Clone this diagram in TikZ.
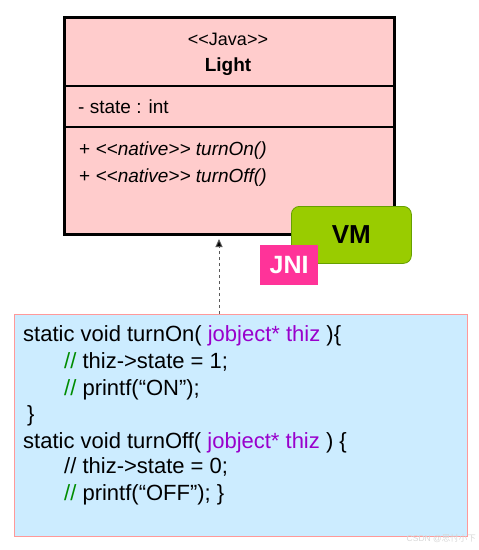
\documentclass[tikz,border=0pt]{standalone}
\usepackage{fontspec}
\setmainfont{Liberation Sans}
\newfontfamily\cjk{Noto Sans CJK SC}
\usetikzlibrary{arrows.meta}
\definecolor{umlpink}{RGB}{255,204,204}
\definecolor{codeblue}{RGB}{204,236,255}
\definecolor{codeborder}{RGB}{255,153,153}
\definecolor{vmgreen}{RGB}{153,204,0}
\definecolor{vmborder}{RGB}{102,160,0}
\definecolor{jnipink}{RGB}{255,51,153}
\definecolor{kwpurple}{RGB}{153,0,204}
\definecolor{cmgreen}{RGB}{0,140,0}
\definecolor{wmgray}{RGB}{215,215,215}
\tikzset{
  umltext/.style={inner sep=0pt, font=\fontsize{19}{21}\selectfont},
  codeline/.style={anchor=base west, inner sep=0pt, font=\fontsize{22}{24}\selectfont},
}
\newcommand{\kwc}[1]{\textcolor{kwpurple}{#1}}
\newcommand{\cmc}[1]{\textcolor{cmgreen}{#1}}
\begin{document}
\begin{tikzpicture}[x=1pt,y=-1pt]
\useasboundingbox (0,0) rectangle (479,550);
% UML class box
\node[draw=black, line width=3pt, fill=umlpink, minimum width=330pt, minimum height=217pt, inner sep=0pt, anchor=north west] (light) at (63,16) {};
\draw[line width=1.2pt] (light.west |- 0,86) coordinate (d1a) -- (light.east |- 0,86) coordinate (d1b);
\draw[line width=1.2pt] (light.west |- 0,127) coordinate (d2a) -- (light.east |- 0,127) coordinate (d2b);
\node[umltext, font=\fontsize{18}{20}\selectfont] (stereo) at (228,39) {<{}<Java>{}>};
\node[umltext, font=\fontsize{19}{21}\selectfont\bfseries] (lname) at (228,67) {Light};
\node[umltext, anchor=west] (attr) at (78,107) {- state : int};
\node[umltext, anchor=west] (m1) at (79,151) {+ \textit{<{}<native>{}> turnOn()}};
\node[umltext, anchor=west] (m2) at (79,178) {+ \textit{<{}<native>{}> turnOff()}};
% VM and JNI
\node[draw=vmborder, line width=0.8pt, fill=vmgreen, rounded corners=8pt, minimum width=120pt, minimum height=57pt, inner sep=0pt, anchor=north west, font=\fontsize{26}{28}\selectfont\bfseries] (vm) at (291,206) {VM};
\node[fill=jnipink, text=white, minimum width=58pt, minimum height=40pt, inner sep=0pt, anchor=north west, font=\fontsize{25}{27}\selectfont\bfseries] (jni) at (260,245) {JNI};
% code box
\node[draw=codeborder, line width=1pt, fill=codeblue, minimum width=453pt, minimum height=222pt, inner sep=0pt, anchor=north west] (code) at (14,314) {};
\coordinate (ax) at (219,0);
\draw[gray!70!black, dashed, dash pattern=on 3pt off 3pt, line width=1pt, -{Triangle[length=8pt,width=7pt,fill=black]}] (code.north -| ax) -- ([yshift=-3pt]light.south -| ax);
\node[codeline] (c1) at (23,341) {static void turnOn( \kwc{jobject* thiz} )\{};
\node[codeline] (c2) at (64,368) {\cmc{//} thiz->state = 1;};
\node[codeline] (c3) at (64,395) {\cmc{//} printf(“ON”);};
\node[codeline] (c4) at (27,421) {\}};
\node[codeline] (c5) at (23,448) {static void turnOff( \kwc{jobject* thiz} ) \{};
\node[codeline] (c6) at (64,473) {// thiz->state = 0;};
\node[codeline] (c7) at (64,500) {\cmc{//} printf(“OFF”); \}};
% watermark
\node[anchor=base east, inner sep=0pt, text=wmgray, font=\fontsize{8.5}{9}\selectfont] (wm) at (476,541) {CSDN @\cjk{思忖小下}};
\end{tikzpicture}
\end{document}
